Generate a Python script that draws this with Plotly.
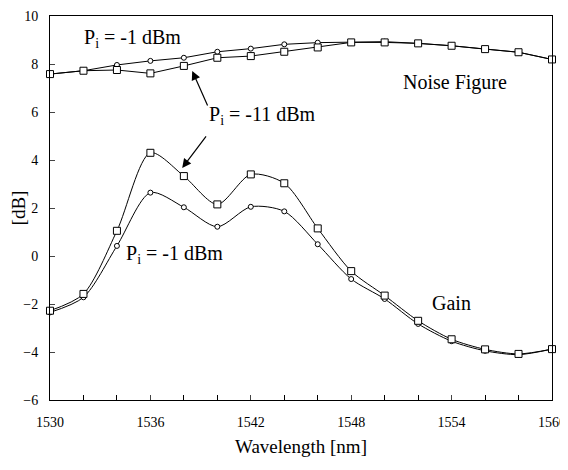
import plotly.graph_objects as go

wavelength = [1530, 1532, 1534, 1536, 1538, 1540, 1542, 1544, 1546, 1548, 1550, 1552, 1554, 1556, 1558, 1560]

nf_m1 = [7.58, 7.72, 7.96, 8.13, 8.26, 8.51, 8.64, 8.82, 8.89, 8.90, 8.93, 8.86, 8.76, 8.62, 8.49, 8.19]
nf_m11 = [7.58, 7.72, 7.75, 7.61, 7.92, 8.26, 8.33, 8.51, 8.69, 8.90, 8.90, 8.86, 8.76, 8.62, 8.49, 8.19]

gain_m1 = [-2.35, -1.72, 0.42, 2.64, 2.03, 1.22, 2.05, 1.86, 0.49, -0.96, -1.79, -2.83, -3.55, -3.95, -4.11, -3.88]
gain_m11 = [-2.28, -1.58, 1.05, 4.30, 3.33, 2.15, 3.40, 3.03, 1.15, -0.63, -1.65, -2.70, -3.47, -3.89, -4.08, -3.88]

x_ticks = [1530, 1536, 1542, 1548, 1554, 1560]
y_ticks = [-6, -4, -2, 0, 2, 4, 6, 8, 10]

FONT = "Liberation Serif"

fig = go.Figure()

def add(y, symbol, size, shape):
    fig.add_trace(go.Scatter(
        x=wavelength, y=y, mode="lines+markers",
        line=dict(color="black", width=1, shape=shape, smoothing=0.8),
        marker=dict(symbol=symbol, size=size, color="white",
                    line=dict(color="black", width=1)),
        showlegend=False, cliponaxis=False,
    ))

add(nf_m1, "circle", 5, "linear")
add(nf_m11, "square", 7, "linear")
add(gain_m1, "circle", 5, "spline")
add(gain_m11, "square", 7, "spline")

ann_font = dict(family=FONT, size=20, color="black")
fig.add_annotation(x=1531.9, y=9.08, xref="x", yref="y", text="P<sub>i</sub> = -1 dBm",
                   showarrow=False, xanchor="left", font=ann_font)
fig.add_annotation(x=1539.4, y=5.85, xref="x", yref="y", text="P<sub>i</sub> = -11 dBm",
                   showarrow=False, xanchor="left", font=ann_font)
fig.add_annotation(x=1551.0, y=7.25, xref="x", yref="y", text="Noise Figure",
                   showarrow=False, xanchor="left", font=ann_font)
fig.add_annotation(x=1534.4, y=0.08, xref="x", yref="y", text="P<sub>i</sub> = -1 dBm",
                   showarrow=False, xanchor="left", font=ann_font)
fig.add_annotation(x=1552.7, y=-1.95, xref="x", yref="y", text="Gain",
                   showarrow=False, xanchor="left", font=ann_font)

# arrows
fig.add_annotation(x=1538.5, y=7.71, xref="x", yref="y", ax=16, ay=36, text="",
                   showarrow=True, arrowhead=2, arrowsize=1.5, arrowwidth=1.2, arrowcolor="black")
fig.add_annotation(x=1537.9, y=3.67, xref="x", yref="y", ax=25, ay=-33, text="",
                   showarrow=True, arrowhead=2, arrowsize=1.5, arrowwidth=1.2, arrowcolor="black")

# page body has an 8px margin, so the figure is offset by 8px
fig.update_layout(
    width=560, height=454,
    margin=dict(l=42, r=16, t=8, b=62),
    paper_bgcolor="white", plot_bgcolor="white",
    font=dict(family=FONT, size=14, color="black"),
    xaxis=dict(range=[1530, 1560], tickvals=x_ticks, ticks="inside", ticklen=5,
               showgrid=False, zeroline=False, showline=True, linecolor="black", linewidth=1,
               mirror=True, ticklabelstandoff=9, automargin=False, ticklabeloverflow="allow",
               minor=dict(dtick=2, ticks="inside", ticklen=5, tickcolor="black"),
               title=dict(text="Wavelength [nm]", font=dict(family=FONT, size=19), standoff=10),
               tickfont=dict(family=FONT, size=14)),
    yaxis=dict(range=[-6, 10], tickvals=y_ticks, ticks="inside", ticklen=5,
               showgrid=False, zeroline=False, showline=True, linecolor="black", linewidth=1,
               mirror=True, ticklabelstandoff=8, automargin=False,
               title=dict(text="[dB]", font=dict(family=FONT, size=19), standoff=2),
               tickfont=dict(family=FONT, size=14)),
)

fig.write_html("out.html")
